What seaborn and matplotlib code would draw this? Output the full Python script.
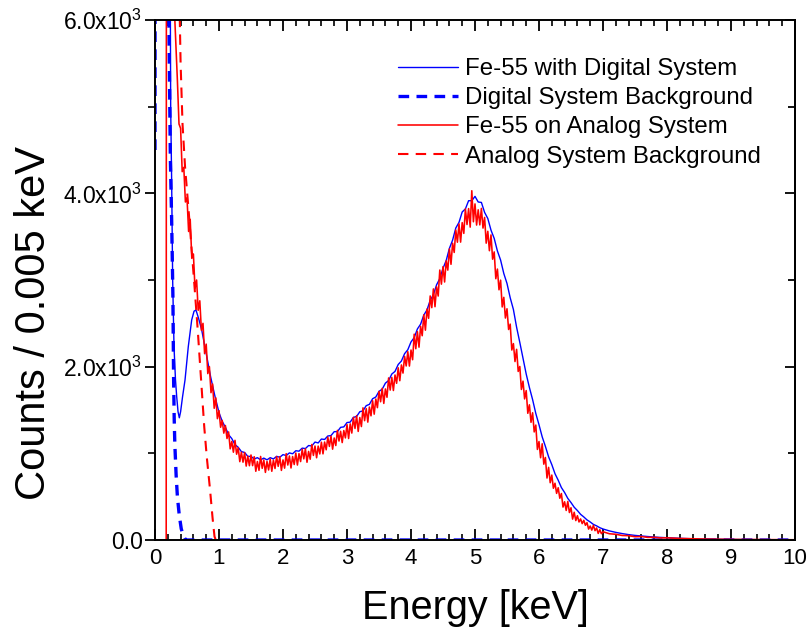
import matplotlib
matplotlib.use("Agg")

import numpy as np
import matplotlib.pyplot as plt
import seaborn as sns
from matplotlib.ticker import MultipleLocator, FixedLocator

sns.set_style("ticks")
plt.rcParams["font.family"] = ["Liberation Sans", "DejaVu Sans"]
plt.rcParams["mathtext.fontset"] = "custom"
plt.rcParams["mathtext.rm"] = "Liberation Sans"
plt.rcParams["mathtext.it"] = "Liberation Sans:italic"
for key in ["text.color", "axes.labelcolor", "xtick.color", "ytick.color", "axes.edgecolor"]:
    plt.rcParams[key] = "black"

# ── Data (counts per 0.005 keV bin) ──────────────────────────────────────────
# Fe-55 with digital system
dig_low_e = [0.20, 0.245, 0.26, 0.276, 0.297, 0.32, 0.339, 0.36, 0.38, 0.40, 0.43,
             0.469, 0.52, 0.573, 0.61, 0.64, 0.68, 0.73, 0.81, 0.87, 0.93]
dig_low_c = [15000, 5000, 4150, 3000, 2230, 1850, 1654, 1480, 1410, 1480, 1650,
             1846, 2230, 2538, 2640, 2654, 2560, 2423, 2115, 1880, 1680]
dig_mid_e = np.round(1.0 + 0.05 * np.arange(121), 3)
dig_mid_c = [
    1470, 1370, 1300, 1215, 1170, 1100, 1070, 1020, 1010, 965,
    965, 935, 950, 925, 945, 925, 950, 935, 965, 955,
    985, 975, 1005, 995, 1030, 1025, 1060, 1055, 1090, 1085,
    1130, 1120, 1165, 1160, 1200, 1205, 1250, 1250, 1300, 1305,
    1355, 1360, 1415, 1425, 1480, 1490, 1550, 1565, 1630, 1650,
    1715, 1740, 1810, 1840, 1915, 1945, 2025, 2065, 2150, 2195,
    2285, 2335, 2435, 2490, 2595, 2655, 2765, 2830, 2945, 3015,
    3135, 3225, 3365, 3460, 3600, 3665, 3785, 3820, 3915, 3915,
    3965, 3900, 3895, 3780, 3710, 3575, 3480, 3335, 3230, 3075,
    2960, 2795, 2660, 2455, 2280, 2095, 1915, 1760, 1620, 1460,
    1330, 1190, 1080, 960, 870, 765, 690, 605, 548, 480,
    432, 378, 340, 296, 266, 232, 208, 180, 163, 142,
    127,
]
dig_tail_e = [7.1, 7.2, 7.3, 7.4, 7.5, 7.6, 7.7, 7.8, 7.9, 8.0, 8.25, 8.5, 8.75, 9.0, 9.5, 10.0]
dig_tail_c = [105, 88, 74, 62, 53, 46, 40, 34, 30, 26, 18, 12, 9, 6, 3, 1]

# Digital system background
dbg_e = [0.0, 0.01, 0.24, 0.26, 0.28, 0.29, 0.30, 0.31, 0.33, 0.35, 0.38, 0.41, 0.44, 0.47, 0.50, 10.0]
dbg_c = [4500, 20000, 4400, 3700, 2800, 1900, 1400, 1100, 750, 500, 280, 130, 55, 10, 0, 0]

# Fe-55 on analog system
ana_low_e = [0.0, 0.175, 0.18, 0.31] + list(np.round(0.35 + 0.025 * np.arange(26), 3))
ana_low_c = [0, 0, 12000, 6000,
             5300, 4800, 4750, 4250, 4300, 3900, 3950, 3560, 3700, 3250, 3300, 2900, 3000,
             2650, 2760, 2420, 2500, 2150, 2260, 1920, 2000, 1700, 1800, 1520, 1640, 1400]
ana_mid_e = np.round(1.0 + 0.025 * np.arange(240), 3)
ana_mid_c = [
    1493, 1301, 1380, 1233, 1321, 1171, 1247, 1052, 1137, 1013, 1150, 990,
    1064, 904, 1013, 898, 1008, 853, 967, 857, 981, 858, 961, 793,
    905, 804, 964, 827, 924, 780, 907, 808, 935, 793, 922, 825,
    963, 850, 961, 803, 924, 829, 996, 865, 969, 831, 963, 871,
    1003, 865, 997, 905, 1046, 936, 1052, 897, 1022, 932, 1102, 976,
    1084, 949, 1083, 993, 1128, 994, 1130, 1041, 1186, 1080, 1199, 1048,
    1177, 1090, 1265, 1142, 1254, 1124, 1263, 1178, 1332, 1171, 1340, 1234,
    1414, 1287, 1435, 1253, 1413, 1309, 1525, 1377, 1516, 1360, 1534, 1433,
    1607, 1452, 1627, 1527, 1714, 1595, 1750, 1576, 1743, 1647, 1870, 1730,
    1876, 1725, 1904, 1808, 1987, 1838, 2020, 1926, 2119, 2008, 2173, 2007,
    2192, 2080, 2375, 2207, 2404, 2225, 2466, 2357, 2598, 2421, 2665, 2558,
    2816, 2681, 2897, 2692, 2922, 2815, 3115, 2952, 3154, 2977, 3221, 3114,
    3358, 3181, 3425, 3318, 3576, 3436, 3647, 3437, 3662, 3538, 3820, 3640,
    3824, 3610, 4030, 3672, 3878, 3634, 3810, 3636, 3826, 3599, 3722, 3425,
    3562, 3338, 3520, 3240, 3324, 3015, 3126, 2887, 2998, 2689, 2800, 2561,
    2668, 2429, 2491, 2192, 2266, 2059, 2200, 1945, 2002, 1737, 1833, 1628,
    1724, 1462, 1560, 1358, 1468, 1247, 1326, 1045, 1136, 949, 1110, 875,
    952, 715, 838, 661, 749, 597, 655, 538, 603, 482, 536, 380,
    441, 341, 445, 317, 372, 241, 320, 224, 280, 208, 243, 189,
    227, 170, 200, 126, 161, 114, 169, 108, 139, 76, 119, 73,
]
ana_tail_e = [7.0, 7.1, 7.2, 7.3, 7.4, 7.5, 7.6, 7.7, 7.8, 7.9, 8.0, 8.2, 8.4, 8.6, 8.8, 9.0, 9.3, 9.6, 10.0]
ana_tail_c = [95, 72, 66, 52, 50, 38, 40, 30, 31, 24, 25, 18, 14, 11, 9, 7, 6, 4, 3]

# Analog system background
abg_e = [0.30, 0.38, 0.40, 0.43, 0.47, 0.52, 0.57, 0.62, 0.67, 0.72, 0.77, 0.81, 0.86, 0.90, 0.93, 0.95]
abg_c = [12000, 6300, 5500, 4800, 4300, 3850, 3380, 2900, 2400, 1850, 1300, 950, 580, 250, 40, 0]

x_ticks = list(range(0, 11))
y_ticks = [0, 2000, 4000, 6000]
y_minor = [1000, 3000, 5000]
y_labels = ["0.0", r"2.0x10$^{3}$", r"4.0x10$^{3}$", r"6.0x10$^{3}$"]

dig_e = np.concatenate([dig_low_e, dig_mid_e, dig_tail_e])
dig_c = np.concatenate([dig_low_c, dig_mid_c, dig_tail_c])
ana_e = np.concatenate([ana_low_e, ana_mid_e, ana_tail_e])
ana_c = np.concatenate([ana_low_c, ana_mid_c, ana_tail_c])

# ── Figure ───────────────────────────────────────────────────────────────────
fig = plt.figure(figsize=(8.07, 6.36), dpi=100)
ax = fig.add_axes([155 / 807, 96 / 636, 640 / 807, 520 / 636])

sns.lineplot(x=dig_e, y=dig_c, ax=ax, color="#0000ff", lw=1.0, sort=False,
             estimator=None, label="Fe-55 with Digital System")
sns.lineplot(x=dbg_e, y=dbg_c, ax=ax, color="#0000ff", lw=2.4, sort=False,
             estimator=None, label="Digital System Background")
sns.lineplot(x=ana_e, y=ana_c, ax=ax, color="#ff0000", lw=1.15, sort=False,
             estimator=None, label="Fe-55 on Analog System")
sns.lineplot(x=abg_e, y=abg_c, ax=ax, color="#ff0000", lw=1.5, sort=False,
             estimator=None, label="Analog System Background")
ax.lines[1].set_dashes((3.2, 2.2))
ax.lines[3].set_dashes((5, 3.5))

ax.set_xlim(0, 10)
ax.set_ylim(0, 6000)
ax.xaxis.set_major_locator(FixedLocator(x_ticks))
ax.xaxis.set_minor_locator(MultipleLocator(0.2))
ax.set_xticklabels([str(t) for t in x_ticks])
ax.yaxis.set_major_locator(FixedLocator(y_ticks))
ax.yaxis.set_minor_locator(FixedLocator(y_minor))
ax.set_yticklabels(y_labels)

for s in ax.spines.values():
    s.set_visible(True)
    s.set_linewidth(1.4)
    s.set_color("black")

ax.tick_params(axis="x", which="both", direction="in", top=True, bottom=True,
               labelsize=16, pad=6, width=1.3, color="black")
ax.tick_params(axis="x", which="major", length=8)
ax.tick_params(axis="x", which="minor", length=4.5, width=1.2)
ax.tick_params(axis="y", which="both", direction="out", left=True, right=False,
               labelsize=16.5, pad=2, width=1.3, color="black")
ax.tick_params(axis="y", which="major", length=7)
ax.tick_params(axis="y", which="minor", length=5, width=1.2)

sec = ax.secondary_yaxis("right")
sec.yaxis.set_major_locator(FixedLocator(y_ticks))
sec.yaxis.set_minor_locator(FixedLocator(y_minor))
sec.tick_params(axis="y", which="both", direction="in", labelright=False, width=1.3, color="black")
sec.tick_params(axis="y", which="major", length=7)
sec.tick_params(axis="y", which="minor", length=5)
sec.spines["right"].set_linewidth(1.4)

ax.set_xlabel("Energy [keV]", fontsize=28.5, labelpad=14)
ax.set_ylabel("Counts / 0.005 keV", fontsize=30)
ax.yaxis.set_label_coords(-0.158, 0.418)

ax.legend(loc="upper left", bbox_to_anchor=(0.38, 0.927), frameon=False, fontsize=17.3,
          handlelength=2.5, handletextpad=0.29, labelspacing=0.3, borderpad=0,
          borderaxespad=0)

fig.savefig("out.png", dpi=100)
plt.close(fig)
